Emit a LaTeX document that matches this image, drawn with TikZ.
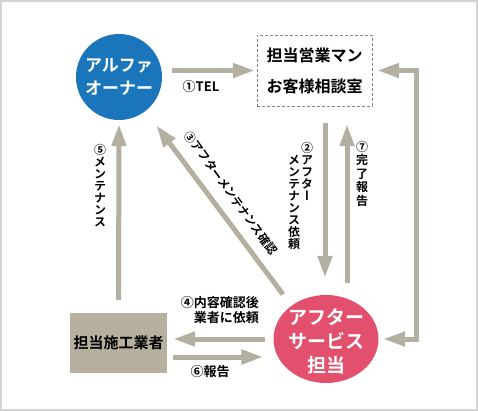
\documentclass[tikz,border=0pt]{standalone}
\usepackage{fontspec}
\setmainfont{Noto Sans CJK JP}[BoldFont={Noto Sans CJK JP Bold}]
\newfontfamily\vjp{Noto Sans CJK JP Bold}[RawFeature=+vert]
\usetikzlibrary{arrows.meta,shapes.geometric}
\definecolor{alphablue}{RGB}{27,117,187}
\definecolor{afterpink}{RGB}{227,80,110}
\definecolor{buildgray}{RGB}{183,176,158}
\definecolor{arrowgray}{RGB}{179,176,162}
\definecolor{dashgray}{RGB}{140,130,115}
\definecolor{framegray}{RGB}{212,212,212}
\begin{document}
\begin{tikzpicture}[x=1pt, y=-1pt, >={Triangle[length=22pt,width=14pt]},
    arr/.style = {draw=arrowgray, line width=5pt, ->},
    lbl/.style = {font=\bfseries\fontsize{12}{14}\selectfont, inner sep=0pt},
    vlbl/.style = {font=\vjp\fontsize{12}{12}\selectfont, align=center, inner sep=0pt, anchor=north},
    boxtext/.style = {font=\bfseries\fontsize{#1}{#1}\selectfont, align=center, inner sep=0pt}]
    \useasboundingbox (0,0) rectangle (478,411);
    \draw[framegray, line width=2pt] (1,1) rectangle (477,410);
    % the four parties
    \node[circle, fill=alphablue, minimum size=86pt, text=white, boxtext=17] (alpha) at (119,77) {アルファ\\[6pt]オーナー};
    \node[draw=dashgray, dash pattern=on 3pt off 2pt, minimum width=115pt, minimum height=71pt, boxtext=16] (office) at (314.5,70.5) {担当営業マン\\[15pt]お客様相談室};
    \node[ellipse, fill=afterpink, minimum width=105pt, minimum height=88pt] (after) at (326,339) {};
    \node[text=white, boxtext=19] (aftertext) at (326,341) {アフター\\[5pt]サービス\\[5pt]担当};
    \node[fill=buildgray, minimum width=97pt, minimum height=60pt, boxtext=15] (builder) at (118.5,343) {担当施工業者};
    % connectors
    \coordinate (o2) at ([xshift=10.5pt]office.south);
    \coordinate (o7) at ([xshift=32.5pt]office.south);
    \coordinate (b6) at ([yshift=-14pt]builder.east);
    \draw[arr, shorten <=10pt, shorten >=2pt] (alpha.east |- office.west) -- (office.west);
    \draw[arr, shorten <=17pt, shorten >=17pt] (o2) -- (o2 |- after.north);
    \draw[arr, shorten <=12pt, shorten >=18pt] (o7 |- after.north) -- (o7);
    \draw[arr, <->, shorten <=5pt, shorten >=4.5pt] (office.east) -- ++(44,0) |- (after.east);
    \draw[arr, shorten <=14pt, shorten >=18pt] (after.136) -- (alpha.-52);
    \draw[arr, shorten <=8pt, shorten >=6pt] (after.west) -- (after.west -| builder.east);
    \draw[arr, shorten <=6pt, shorten >=10pt] (b6) -- (b6 -| after.west);
    \draw[arr, shorten <=13pt, shorten >=4pt] (builder.north) -- (alpha.south);
    % labels
    \node[lbl, font=\bfseries\fontsize{13}{15}\selectfont] (tel) at (201,87) {①TEL};
    \node[vlbl] (lbl2a) at (307,142) {②\\ア\\フ\\タ\\ー};
    \node[vlbl] (lbl2b) at (294,155) {メ\\ン\\テ\\ナ\\ン\\ス\\依\\頼};
    \node[vlbl, font=\vjp\fontsize{12}{13.5}\selectfont] (lbl7) at (362,141) {⑦\\完\\了\\報\\告};
    \node[vlbl] (lbl5) at (100,144) {⑤\\メ\\ン\\テ\\ナ\\ン\\ス};
    \node[lbl, font=\bfseries\fontsize{11.5}{12}\selectfont, rotate=-54] (lbl3) at (231,193) {③アフターメンテナンス確認};
    \node[lbl, font=\bfseries\fontsize{13}{15}\selectfont, align=right, anchor=east] (lbl4) at (259,310.5) {④内容確認後\\業者に依頼};
    \node[lbl, font=\bfseries\fontsize{13}{15}\selectfont] (lbl6) at (210,372) {⑥報告};
\end{tikzpicture}
\end{document}
